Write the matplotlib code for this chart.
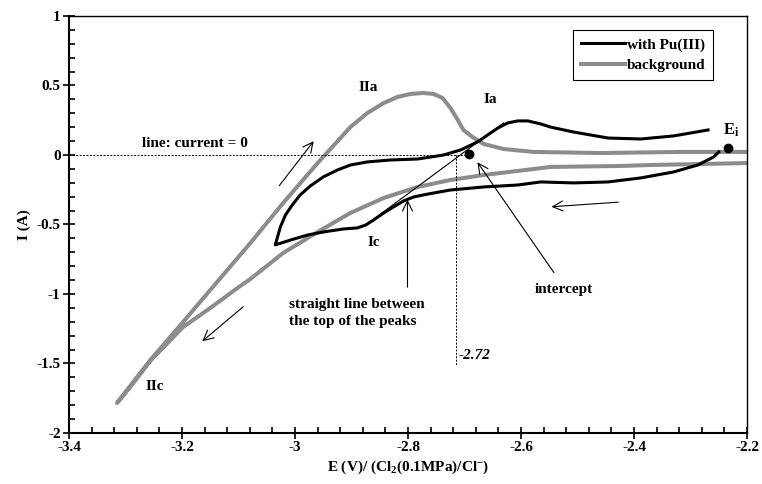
import numpy as np
from matplotlib import pyplot as plt
from matplotlib.ticker import MultipleLocator, FixedLocator

plt.rcParams['font.family'] = 'Liberation Serif'
plt.rcParams['font.weight'] = 'bold'
plt.rcParams['axes.labelweight'] = 'bold'
plt.rcParams['mathtext.fontset'] = 'custom'
plt.rcParams['mathtext.rm'] = 'Liberation Serif:bold'
plt.rcParams['mathtext.bf'] = 'Liberation Serif:bold'
plt.rcParams['mathtext.it'] = 'Liberation Serif:bold:italic'

# with Pu(III): from E_i cathodic, then back anodic
pu_E = [-2.250, -2.259, -2.287, -2.330, -2.388, -2.446, -2.507, -2.565, -2.606, -2.666,
        -2.725, -2.765, -2.790, -2.808, -2.826, -2.843, -2.861, -2.875, -2.890, -2.914,
        -2.950, -2.978, -3.008, -3.035,
        -3.031, -3.026, -3.017, -3.005, -2.991, -2.973, -2.950, -2.925, -2.902, -2.872,
        -2.831, -2.783, -2.737, -2.707, -2.677, -2.659, -2.641, -2.624, -2.606, -2.588,
        -2.565, -2.548, -2.507, -2.446, -2.388, -2.330, -2.269]
pu_I = [0.022, -0.014, -0.072, -0.122, -0.165, -0.194, -0.201, -0.194, -0.216, -0.230,
        -0.252, -0.281, -0.302, -0.331, -0.374, -0.417, -0.468, -0.504, -0.525, -0.532,
        -0.554, -0.576, -0.612, -0.647,
        -0.590, -0.518, -0.432, -0.360, -0.288, -0.223, -0.158, -0.108, -0.072, -0.050,
        -0.036, -0.029, 0.000, 0.036, 0.094, 0.144, 0.194, 0.230, 0.245, 0.245,
        0.223, 0.201, 0.165, 0.122, 0.115, 0.137, 0.180]

# background: cathodic branch then anodic branch
bg_E = [-2.197, -2.282, -2.370, -2.423, -2.548, -2.606, -2.666, -2.725, -2.783, -2.843,
        -2.902, -2.960, -3.021, -3.079, -3.102, -3.150, -3.198, -3.256, -3.290, -3.315,
        -3.256, -3.198, -3.150, -3.079, -3.021, -2.960, -2.902, -2.872, -2.843, -2.819,
        -2.796, -2.773, -2.755, -2.739, -2.725, -2.712, -2.702, -2.686, -2.666, -2.631,
        -2.578, -2.459, -2.317, -2.197]
bg_I = [-0.058, -0.065, -0.072, -0.079, -0.086, -0.115, -0.144, -0.180, -0.230, -0.309,
        -0.417, -0.554, -0.705, -0.892, -0.957, -1.101, -1.237, -1.480, -1.660, -1.784,
        -1.475, -1.201, -0.971, -0.633, -0.345, -0.058, 0.201, 0.302, 0.374, 0.417,
        0.439, 0.446, 0.439, 0.410, 0.338, 0.252, 0.180, 0.129, 0.079, 0.043,
        0.022, 0.014, 0.022, 0.022]

# straight line between the tops of the peaks Ic and Ia
peak_E = [-2.875, -2.631]
peak_I = [-0.504, 0.230]
intercept_E = -2.693
intercept_I = 0.007
cross_E = -2.715
Ei_E = -2.234
Ei_I = 0.050

xticks = [-3.4, -3.2, -3.0, -2.8, -2.6, -2.4, -2.2]
xticklabels = ['-3.4', '-3.2', '-3', '-2.8', '-2.6', '-2.4', '-2.2']
yticks = [-2, -1.5, -1, -0.5, 0, 0.5, 1]
yticklabels = ['-2', '-1.5', '-1', '-0.5', '0', '0.5', '1']

fig = plt.figure(figsize=(7.62, 4.84), dpi=100)
ax = fig.add_axes([0.0906, 0.1054, 0.8898, 0.8616])

ax.plot(pu_E, pu_I, color='black', lw=2.2, label='with Pu(III)', zorder=3,
        solid_joinstyle='round')
ax.plot(bg_E, bg_I, color='#8c8c8c', lw=2.9, label='background', zorder=2,
        solid_joinstyle='round')

ax.plot([-3.4, -2.70], [0, 0], color='black', lw=0.7, ls=(0, (2, 1.5)))
ax.plot([cross_E, cross_E], [0, -1.51], color='black', lw=0.7, ls=(0, (2, 1.5)))
ax.plot(peak_E, peak_I, color='black', lw=0.8, zorder=4)
ax.plot(intercept_E, intercept_I, 'o', color='black', ms=6, zorder=5)
ax.plot(Ei_E, Ei_I, 'o', color='black', ms=6, zorder=5)

arrow = dict(arrowstyle='->', color='black', lw=0.8, mutation_scale=18)
# scan direction arrows
ax.annotate('', xy=(-2.964, 0.115), xytext=(-3.031, -0.237), arrowprops=arrow)
ax.annotate('', xy=(-2.551, -0.374), xytext=(-2.423, -0.338), arrowprops=arrow)
ax.annotate('', xy=(-3.168, -1.353), xytext=(-3.088, -1.079), arrowprops=arrow)
# pointers
ax.annotate('', xy=(-2.801, -0.302), xytext=(-2.801, -0.971), arrowprops=arrow)
ax.annotate('', xy=(-2.680, -0.036), xytext=(-2.539, -0.863), arrowprops=arrow)

fs = 11
ax.text(-3.177, 0.086, 'line: current = 0', fontsize=fs, ha='center', va='center')
ax.text(-2.870, 0.489, 'IIa', fontsize=fs, ha='center', va='center')
ax.text(-2.654, 0.396, 'Ia', fontsize=fs, ha='center', va='center')
ax.text(-2.861, -0.633, 'Ic', fontsize=fs, ha='center', va='center')
ax.text(-3.248, -1.669, 'IIc', fontsize=fs, ha='center', va='center')
ax.text(-2.228, 0.18, r'E$_\mathbf{i}$', fontsize=fs + 1, ha='center', va='center')
ax.text(-3.010, -1.137, 'straight line between\nthe top of the peaks', fontsize=fs,
        ha='left', va='center', linespacing=1.45)
ax.text(-2.524, -0.971, 'intercept', fontsize=fs, ha='center', va='center')
ax.text(-2.710, -1.446, '-2.72', fontsize=fs, style='italic', ha='left', va='center')

ax.set_xlim(-3.4, -2.2)
ax.set_ylim(-2, 1)
ax.tick_params(which='major', direction='inout', length=8, width=1.2, labelsize=fs, pad=2)
ax.tick_params(which='minor', direction='in', length=4, width=1.2)
ax.tick_params(top=False, right=False, which='both')
ax.set_xticks(xticks)
ax.set_xticklabels(xticklabels, fontsize=fs, fontweight='bold')
ax.set_yticks(yticks)
ax.set_yticklabels(yticklabels, fontsize=fs, fontweight='bold')
ax.xaxis.set_minor_locator(MultipleLocator(0.04))
ax.yaxis.set_minor_locator(MultipleLocator(0.1))
for s in ax.spines.values():
    s.set_linewidth(1.0)
ax.spines['left'].set_linewidth(1.5)
ax.spines['bottom'].set_linewidth(1.5)

ax.set_xlabel(r'E (V)/ (Cl$_\mathbf{2}$(0.1MPa)/Cl$^\mathbf{-}$)', fontsize=fs,
              fontweight='bold', labelpad=3)
ax.set_ylabel('I (A)', fontsize=fs, fontweight='bold', labelpad=4)

leg = ax.legend(loc='upper right', bbox_to_anchor=(0.950, 0.966), fontsize=fs,
                frameon=True, fancybox=False, shadow=False, framealpha=1,
                edgecolor='black', handlelength=2.9, handletextpad=0.1,
                borderpad=0.5, labelspacing=0.45, borderaxespad=0)
leg.get_frame().set_linewidth(0.8)
for t in leg.get_texts():
    t.set_fontweight('bold')

fig.canvas.draw()
for lbl in ax.get_xticklabels() + ax.get_yticklabels():
    lbl.set_fontweight('bold')

fig.savefig('out.png', dpi=100)
